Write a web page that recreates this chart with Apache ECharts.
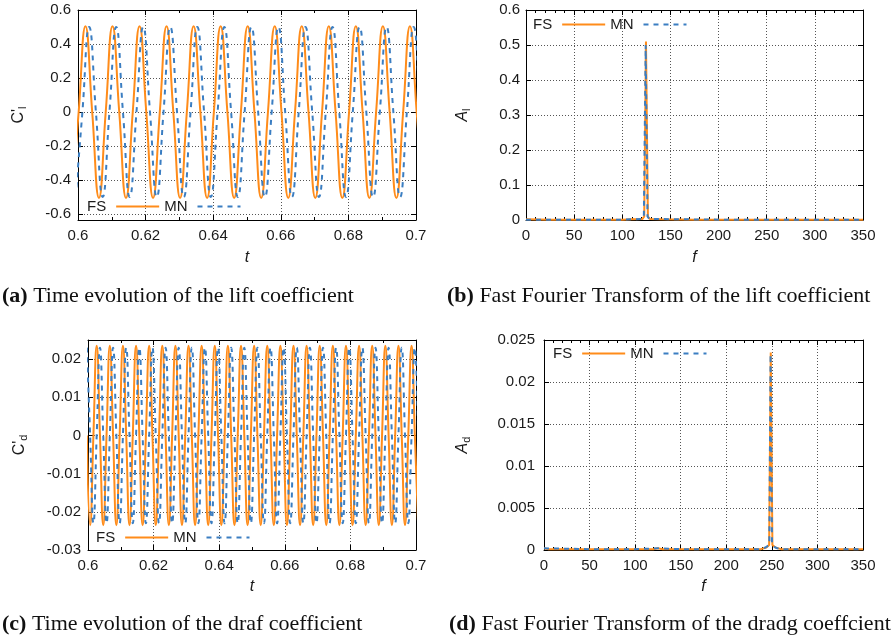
<!DOCTYPE html>
<html>
<head>
<meta charset="utf-8">
<script src="https://cdn.jsdelivr.net/npm/echarts@6/dist/echarts.min.js"></script>
<style>
  html, body { margin: 0; padding: 0; background: #ffffff; }
  #chart { width: 892px; height: 641px; }
</style>
</head>
<body>
<div id="chart"></div>
<script>
// ---- Lift coefficient time history (extrema and zero crossings) ----
const liftTimeFS = [
  0.5982,0.6002,0.6022,0.6042,0.6062,0.6082,0.6102,0.6122,0.6142,0.6162,
  0.6182,0.6202,0.6222,0.6242,0.6262,0.6282,0.6302,0.6322,0.6342,0.6362,
  0.6382,0.6402,0.6422,0.6442,0.6462,0.6482,0.6502,0.6522,0.6542,0.6562,
  0.6582,0.6602,0.6622,0.6642,0.6662,0.6682,0.6702,0.6722,0.6742,0.6762,
  0.6782,0.6802,0.6822,0.6842,0.6862,0.6882,0.6902,0.6922,0.6942,0.6962,
  0.6982,0.7002,0.7022
];
const liftFS = [
  -0.505,0,0.505,0, -0.505,0,0.505,0, -0.505,0,0.505,0, -0.505,0,0.505,0,
  -0.505,0,0.505,0, -0.505,0,0.505,0, -0.505,0,0.505,0, -0.505,0,0.505,0,
  -0.505,0,0.505,0, -0.505,0,0.505,0, -0.505,0,0.505,0, -0.505,0,0.505,0,
  -0.505,0,0.505,0, -0.505
];
const liftTimeMN = [
  0.5993,0.6013,0.6033,0.6053,0.6073,0.6093,0.6113,0.6133,0.6153,0.6173,
  0.6193,0.6213,0.6233,0.6253,0.6273,0.6293,0.6313,0.6333,0.6353,0.6373,
  0.6393,0.6413,0.6433,0.6453,0.6473,0.6493,0.6513,0.6533,0.6553,0.6573,
  0.6593,0.6613,0.6633,0.6653,0.6673,0.6693,0.6713,0.6733,0.6753,0.6773,
  0.6793,0.6813,0.6833,0.6853,0.6873,0.6893,0.6913,0.6933,0.6953,0.6973,
  0.6993,0.7013,0.7033
];
const liftMN = [
  -0.5,0,0.5,0, -0.5,0,0.5,0, -0.5,0,0.5,0, -0.5,0,0.5,0,
  -0.5,0,0.5,0, -0.5,0,0.5,0, -0.5,0,0.5,0, -0.5,0,0.5,0,
  -0.5,0,0.5,0, -0.5,0,0.5,0, -0.5,0,0.5,0, -0.5,0,0.5,0,
  -0.5,0,0.5,0, -0.5
];

// ---- Drag coefficient time history ----
const dragTime = [
  0.59965,0.60065,0.60165,0.60265,0.60365,0.60465,0.60565,0.60665,0.60765,0.60865,
  0.60965,0.61065,0.61165,0.61265,0.61365,0.61465,0.61565,0.61665,0.61765,0.61865,
  0.61965,0.62065,0.62165,0.62265,0.62365,0.62465,0.62565,0.62665,0.62765,0.62865,
  0.62965,0.63065,0.63165,0.63265,0.63365,0.63465,0.63565,0.63665,0.63765,0.63865,
  0.63965,0.64065,0.64165,0.64265,0.64365,0.64465,0.64565,0.64665,0.64765,0.64865,
  0.64965,0.65065,0.65165,0.65265,0.65365,0.65465,0.65565,0.65665,0.65765,0.65865,
  0.65965,0.66065,0.66165,0.66265,0.66365,0.66465,0.66565,0.66665,0.66765,0.66865,
  0.66965,0.67065,0.67165,0.67265,0.67365,0.67465,0.67565,0.67665,0.67765,0.67865,
  0.67965,0.68065,0.68165,0.68265,0.68365,0.68465,0.68565,0.68665,0.68765,0.68865,
  0.68965,0.69065,0.69165,0.69265,0.69365,0.69465,0.69565,0.69665,0.69765,0.69865,
  0.69965,0.70065
];
const dragFS = [
  0,-0.0235,0,0.0235, 0,-0.0235,0,0.0235, 0,-0.0235,0,0.0235, 0,-0.0235,0,0.0235,
  0,-0.0235,0,0.0235, 0,-0.0235,0,0.0235, 0,-0.0235,0,0.0235, 0,-0.0235,0,0.0235,
  0,-0.0235,0,0.0235, 0,-0.0235,0,0.0235, 0,-0.0235,0,0.0235, 0,-0.0235,0,0.0235,
  0,-0.0235,0,0.0235, 0,-0.0235,0,0.0235, 0,-0.0235,0,0.0235, 0,-0.0235,0,0.0235,
  0,-0.0235,0,0.0235, 0,-0.0235,0,0.0235, 0,-0.0235,0,0.0235, 0,-0.0235,0,0.0235,
  0,-0.0235,0,0.0235, 0,-0.0235,0,0.0235, 0,-0.0235,0,0.0235, 0,-0.0235,0,0.0235,
  0,-0.0235,0,0.0235, 0,-0.0235
];
const dragMN = [
  0.023,0,-0.023,0, 0.023,0,-0.023,0, 0.023,0,-0.023,0, 0.023,0,-0.023,0,
  0.023,0,-0.023,0, 0.023,0,-0.023,0, 0.023,0,-0.023,0, 0.023,0,-0.023,0,
  0.023,0,-0.023,0, 0.023,0,-0.023,0, 0.023,0,-0.023,0, 0.023,0,-0.023,0,
  0.023,0,-0.023,0, 0.023,0,-0.023,0, 0.023,0,-0.023,0, 0.023,0,-0.023,0,
  0.023,0,-0.023,0, 0.023,0,-0.023,0, 0.023,0,-0.023,0, 0.023,0,-0.023,0,
  0.023,0,-0.023,0, 0.023,0,-0.023,0, 0.023,0,-0.023,0, 0.023,0,-0.023,0,
  0.023,0,-0.023,0, 0.023,0
];

// ---- Amplitude spectra ----
const fftLiftFreqFS = [0, 25, 50, 75, 100, 110, 121, 122.8, 124.6, 126.6, 128.5, 140, 175, 200, 250, 300, 350];
const fftLiftFS     = [0.002, 0.001, 0.001, 0.001, 0.001, 0.002, 0.003, 0.01, 0.51, 0.01, 0.003, 0.002, 0.001, 0.001, 0.001, 0.001, 0.001];
const fftLiftFreqMN = [0, 50, 100, 121, 122.4, 124.3, 126.2, 128, 200, 350];
const fftLiftMN     = [0.001, 0.001, 0.001, 0.003, 0.01, 0.50, 0.01, 0.003, 0.001, 0.001];

const fftDragFreqFS = [0, 5, 50, 100, 120, 125, 130, 200, 238, 244, 247, 248.8, 250.6, 254, 260, 300, 350];
const fftDragFS     = [0.0002, 0.0001, 0.0001, 0.0001, 0.0001, 0.0002, 0.0001, 0.0001, 0.0001, 0.0003, 0.0006, 0.0235, 0.0006, 0.0003, 0.0001, 0.0001, 0.0001];
const fftDragFreqMN = [0, 50, 100, 125, 150, 200, 236, 243, 247.2, 248.6, 250.2, 252, 256, 262, 300, 350];
const fftDragMN     = [0.0002, 0.0001, 0.0001, 0.0002, 0.0001, 0.0001, 0.0001, 0.0003, 0.0006, 0.0233, 0.0008, 0.0004, 0.0002, 0.0001, 0.0001, 0.0001];

// ---- Captions ----
const captions = [
  ['(a)', 'Time evolution of the lift coefficient'],
  ['(b)', 'Fast Fourier Transform of the lift coefficient'],
  ['(c)', 'Time evolution of the draf coefficient'],
  ['(d)', 'Fast Fourier Transform of the dradg coeffcient']
];

const SANS = '"Liberation Sans", Arial, Helvetica, sans-serif';
const SERIF = '"Liberation Serif", "Times New Roman", serif';
const INK = '#1a1a1a';
const ORANGE = '#ff8c1a';
const BLUE = '#3b7ec2';
const GRIDLINE = { show: true, lineStyle: { color: '#555555', width: 1, type: [1, 2] } };

function pairs(xs, ys) { return xs.map((x, i) => [x, ys[i]]); }

// layout of the four panels
const panels = [
  { grid: { left: 78, top: 10, width: 338, height: 210 },
    x: { min: 0.6, max: 0.7, interval: 0.02, minor: 2 }, xName: 't', xGap: 30,
    y: { min: -0.635, max: 0.6, hideMin: true }, yName: "{m|C'}{s|l}", yItalic: false, yGap: 50, yMargin: 7,
    legend: { left: 87, top: 199 }, caption: { left: 2, top: 285 } },
  { grid: { left: 526, top: 10, width: 337, height: 210 },
    x: { min: 0, max: 350, interval: 50, minor: 5 }, xName: 'f', xGap: 30,
    y: { min: 0, max: 0.6, interval: 0.1 }, yName: '{m|A}{s|l}', yItalic: true, yGap: 54, yMargin: 6,
    legend: { left: 533, top: 17 }, caption: { left: 447, top: 285 } },
  { grid: { left: 88, top: 340, width: 328, height: 210 },
    x: { min: 0.6, max: 0.7, interval: 0.02, minor: 2 }, xName: 't', xGap: 29,
    y: { min: -0.03, max: 0.025, interval: 0.01, hideMax: true }, yName: "{m|C'}{s|d}", yItalic: false, yGap: 59, yMargin: 7,
    legend: { left: 96, top: 530 }, caption: { left: 2, top: 613 } },
  { grid: { left: 544, top: 340, width: 319, height: 210 },
    x: { min: 0, max: 350, interval: 50, minor: 5 }, xName: 'f', xGap: 29,
    y: { min: 0, max: 0.025, interval: 0.005 }, yName: '{m|A}{s|d}', yItalic: true, yGap: 72, yMargin: 9,
    legend: { left: 553, top: 346 }, caption: { left: 449, top: 613 } }
];

const grids = [], xAxes = [], yAxes = [], legends = [], titles = [];
const tick = { show: true, inside: true, length: 5, lineStyle: { color: '#000', width: 1 } };
const minor = (n) => ({ show: true, splitNumber: n, length: 3, lineStyle: { color: '#000', width: 1 } });
const line = { show: true, onZero: false, lineStyle: { color: '#000', width: 1 } };
const label = { color: INK, fontFamily: SANS, fontSize: 15 };

panels.forEach((p, i) => {
  grids.push(Object.assign({ containLabel: false }, p.grid));

  const xBase = { type: 'value', gridIndex: i, min: p.x.min, max: p.x.max, interval: p.x.interval };
  xAxes.push(Object.assign({}, xBase, {
    position: 'bottom', axisLine: line, axisTick: tick, minorTick: minor(p.x.minor),
    axisLabel: Object.assign({ margin: 8 }, label), splitLine: GRIDLINE,
    name: p.xName, nameLocation: 'middle', nameGap: p.xGap,
    nameTextStyle: { fontFamily: SANS, fontSize: 16, fontStyle: 'italic', color: INK }
  }));
  xAxes.push(Object.assign({}, xBase, {
    position: 'top', axisLine: line, axisTick: tick, minorTick: minor(p.x.minor),
    axisLabel: { show: false }, splitLine: { show: false }
  }));

  const yBase = { type: 'value', gridIndex: i, min: p.y.min, max: p.y.max };
  if (p.y.interval) yBase.interval = p.y.interval;
  yAxes.push(Object.assign({}, yBase, {
    position: 'left', axisLine: line, axisTick: tick,
    axisLabel: Object.assign({ margin: p.yMargin, showMinLabel: !p.y.hideMin, showMaxLabel: !p.y.hideMax }, label),
    splitLine: GRIDLINE,
    name: p.yName, nameLocation: 'middle', nameGap: p.yGap, nameRotate: 90,
    nameTextStyle: {
      fontFamily: SANS, fontSize: 16, color: INK,
      rich: {
        m: { fontFamily: SANS, fontSize: 16, color: INK, fontStyle: p.yItalic ? 'italic' : 'normal' },
        s: { fontFamily: SANS, fontSize: 11, color: INK, padding: [8, 0, 0, 0] }
      }
    }
  }));
  yAxes.push(Object.assign({}, yBase, {
    position: 'right', axisLine: line, axisTick: tick,
    axisLabel: { show: false }, splitLine: { show: false }
  }));

  // key: name on the left, line sample on the right (no point marker)
  legends.push({
    data: ['FS', 'MN'], left: p.legend.left, top: p.legend.top, padding: 0,
    align: 'right', orient: 'horizontal', itemWidth: 43, itemHeight: 14, itemGap: 4,
    selectedMode: false,
    itemStyle: { opacity: 0 },
    textStyle: { fontFamily: SANS, fontSize: 15, color: INK, padding: [0, 5, 0, 0] }
  });

  titles.push({
    text: '{b|' + captions[i][0] + '} ' + captions[i][1],
    left: p.caption.left, top: p.caption.top, padding: 0,
    textStyle: {
      fontFamily: SERIF, fontSize: 22, fontWeight: 'normal', color: '#111',
      rich: { b: { fontFamily: SERIF, fontSize: 22, fontWeight: 'bold', color: '#111' } }
    }
  });
});

function curve(name, axisIdx, data, color, dashed, smooth) {
  return {
    name: name, type: 'line', xAxisIndex: axisIdx * 2, yAxisIndex: axisIdx * 2,
    data: data, smooth: smooth, symbol: 'none', showSymbol: false,
    lineStyle: { color: color, width: 2, type: dashed ? [5, 5] : 'solid' },
    itemStyle: { color: color }, emphasis: { disabled: true }, z: dashed ? 3 : 2
  };
}

const series = [
  curve('FS', 0, pairs(liftTimeFS, liftFS), ORANGE, false, true),
  curve('MN', 0, pairs(liftTimeMN, liftMN), BLUE, true, true),
  curve('FS', 1, pairs(fftLiftFreqFS, fftLiftFS), ORANGE, false, false),
  curve('MN', 1, pairs(fftLiftFreqMN, fftLiftMN), BLUE, true, false),
  curve('FS', 2, pairs(dragTime, dragFS), ORANGE, false, true),
  curve('MN', 2, pairs(dragTime, dragMN), BLUE, true, true),
  curve('FS', 3, pairs(fftDragFreqFS, fftDragFS), ORANGE, false, false),
  curve('MN', 3, pairs(fftDragFreqMN, fftDragMN), BLUE, true, false)
];

const chart = echarts.init(document.getElementById('chart'), null, { renderer: 'canvas' });
chart.setOption({
  animation: false,
  backgroundColor: '#ffffff',
  title: titles,
  legend: legends,
  grid: grids,
  xAxis: xAxes,
  yAxis: yAxes,
  series: series
});
</script>
</body>
</html>
